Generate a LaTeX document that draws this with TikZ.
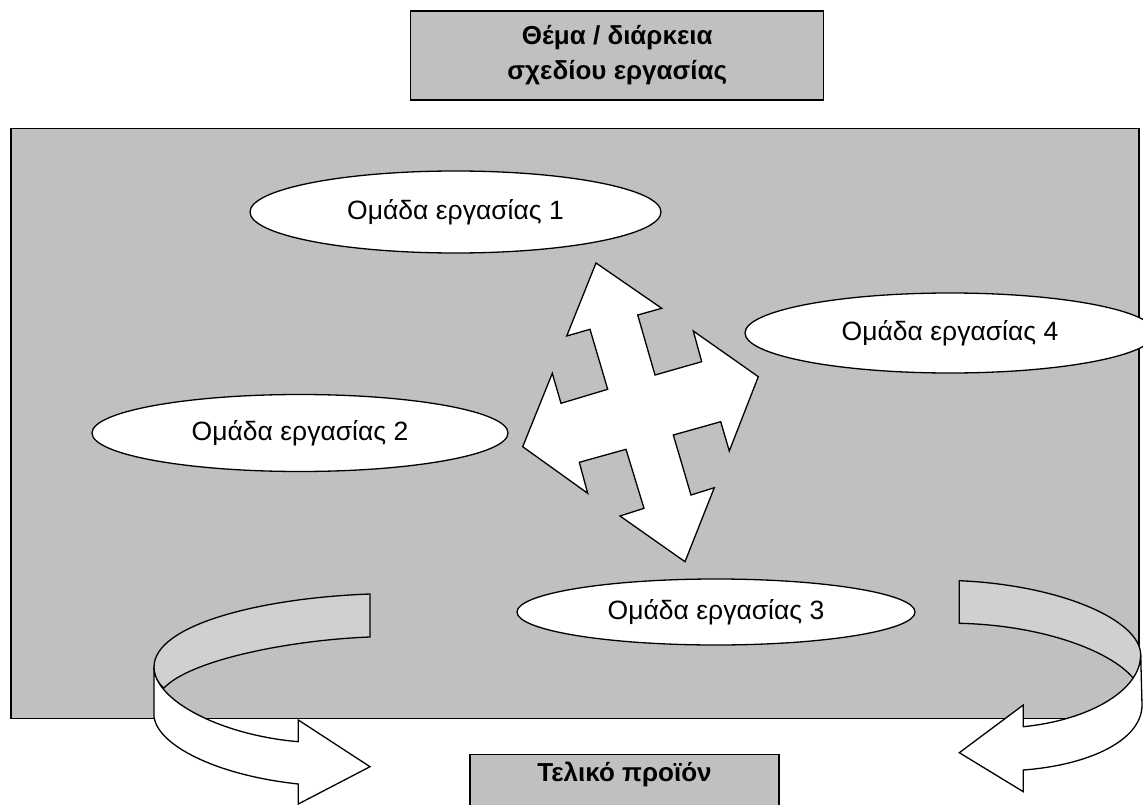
\documentclass[tikz,border=0pt]{standalone}
\usepackage{fontspec}
\setmainfont{Liberation Sans}
\usetikzlibrary{shapes.geometric}
\definecolor{bggrey}{HTML}{C0C0C0}
\definecolor{backgrey}{HTML}{D0D0D0}
\tikzset{
  outl/.style={draw=black, line width=1.3pt, line join=miter},
  grp/.style={outl, ellipse, fill=white, inner sep=0pt, font=\fontsize{26.5}{30}\selectfont},
  hbox/.style={outl, rectangle, fill=bggrey, inner sep=0pt, font=\bfseries\fontsize{26}{35}\selectfont, align=center},
  crossarrow/.style={outl, fill=white},
  ribbonback/.style={outl, fill=backgrey},
  ribbonfront/.style={outl, fill=white},
}
\begin{document}
\begin{tikzpicture}[x=1pt,y=-1pt]
\useasboundingbox (0,0) rectangle (1143,805);
\clip (0,0) rectangle (1143,805);
\fill[white] (0,0) rectangle (1143,805);
% big grey area
\node[outl, fill=bggrey, rectangle, inner sep=0pt, anchor=north west,
      minimum width=1128pt, minimum height=590pt] (area) at (10.3,128) {};
% header
\node[hbox, minimum width=413pt, minimum height=89pt] (topic) at (617.3,55.5)
  {Θέμα / διάρκεια\\σχεδίου εργασίας};
% ellipses
\node[grp, minimum width=411pt, minimum height=82pt] (g1) at (455.5,212) {Ομάδα εργασίας 1};
\node[grp, minimum width=410pt, minimum height=80pt] (g4) at (950,333) {Ομάδα εργασίας 4};
\node[grp, minimum width=416pt, minimum height=77pt] (g2) at (300,433) {Ομάδα εργασίας 2};
\node[grp, minimum width=398pt, minimum height=66pt] (g3) at (716,612) {Ομάδα εργασίας 3};
% four-way arrow
\draw[crossarrow] (596,263) -- (661.7,308.3) -- (637.7,315) -- (655,375) -- (701.7,361.7)
  -- (693.3,331) -- (758.3,376.7) -- (729.3,451) -- (720.7,421.7) -- (673.3,435)
  -- (691,495) -- (714.3,487.7) -- (685,561.7) -- (620,516) -- (644,508.3)
  -- (626,449.3) -- (579.3,462.3) -- (587.7,493.3) -- (522.7,446.7) -- (552.3,373.3)
  -- (561,403.3) -- (607.7,389.3) -- (590,329.3) -- (566.7,336) -- cycle;
% left curved ribbon arrow
\draw[ribbonback] (370,594) .. controls (260,598) and (154,625) .. (154,667)
  .. controls (154,677) and (158,683) .. (164,688)
  .. controls (190,660) and (290,640) .. (370,637) -- cycle;
\draw[ribbonfront] (154,667) .. controls (154,700) and (220,735) .. (298.3,741.7)
  -- (298.3,720) -- (370,766.7) -- (298.3,804) -- (298.3,784)
  .. controls (215,775) and (158,745) .. (154,717) -- cycle;
% right curved ribbon arrow
\draw[ribbonback] (959.3,580.7) .. controls (1060,585) and (1140.7,620) .. (1140.7,655)
  .. controls (1140.7,665) and (1138,672) .. (1133.3,678.3)
  .. controls (1110,650) and (1040,625) .. (959.3,623.3) -- cycle;
\draw[ribbonfront] (1140.7,655) .. controls (1140.7,690) and (1090,720) .. (1023.3,726.7)
  -- (1023.3,705) -- (959.3,752.7) -- (1023.3,791.7) -- (1023.3,770)
  .. controls (1090,765) and (1142,740) .. (1142,705) -- cycle;
% final product box
\node[hbox, anchor=north, minimum width=309pt, minimum height=80pt] (final) at (624.5,754) {};
\node[font=\bfseries\fontsize{26}{30}\selectfont, inner sep=0pt] (finaltext) at (624.5,774) {Τελικό προϊόν};
\end{tikzpicture}
\end{document}
